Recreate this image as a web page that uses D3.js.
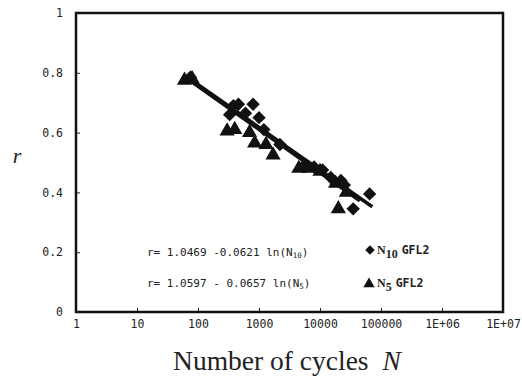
<!DOCTYPE html>
<html><head><meta charset="utf-8">
<script src="https://cdn.jsdelivr.net/npm/d3@7"></script>
<style>body{margin:0;background:#fff}svg{display:block}</style>
</head><body>
<script>
// ---- data ----
const xTicks = [1, 10, 100, 1000, 10000, 100000, 1e6, 1e7];
const xTickLabels = ["1", "10", "100", "1000", "10000", "100000", "1E+06", "1E+07"];
const yTicks = [0, 0.2, 0.4, 0.6, 0.8, 1];
const yTickLabels = ["0", "0.2", "0.4", "0.6", "0.8", "1"];

const n10Cycles = [75, 380, 460, 800, 330, 600, 1000, 1200, 2200, 5500, 8000, 11000, 15000, 22000, 25000, 35000, 65000];
const n10R      = [0.785, 0.69, 0.695, 0.695, 0.66, 0.665, 0.65, 0.61, 0.56, 0.49, 0.485, 0.475, 0.45, 0.44, 0.425, 0.345, 0.395];

const n5Cycles = [60, 80, 300, 400, 700, 850, 1300, 1700, 4500, 6500, 10000, 18000, 20000, 27000];
const n5R      = [0.775, 0.78, 0.605, 0.61, 0.6, 0.565, 0.56, 0.525, 0.48, 0.48, 0.47, 0.43, 0.345, 0.40];

const fit10N = [70, 72000];
const fit10R = [0.783, 0.352];
const fit5N  = [62, 45000];
const fit5R  = [0.785, 0.372];

// ---- layout ----
const W = 522, H = 376;
const m = {l: 76, t: 13, r: 503, b: 312};
const svg = d3.select("body").append("svg").attr("width", W).attr("height", H);

const x = d3.scaleLog().domain([1, 1e7]).range([m.l, m.r]);
const y = d3.scaleLinear().domain([0, 1]).range([m.b, m.t]);

const tickFont = "'DejaVu Sans Mono', monospace";

// ticks
svg.append("g").attr("transform", `translate(0,${m.b})`)
  .call(d3.axisBottom(x).tickValues(xTicks).tickSizeInner(-4).tickSizeOuter(0).tickFormat((d,i)=>xTickLabels[i]).tickPadding(8))
  .call(g => g.select(".domain").remove())
  .call(g => g.selectAll("line").attr("stroke", "#222").attr("stroke-width", 1))
  .call(g => g.selectAll("text").attr("font-family", tickFont).attr("font-size", 11.5).attr("fill", "#222"));

svg.append("g").attr("transform", `translate(${m.l},0)`)
  .call(d3.axisLeft(y).tickValues(yTicks).tickSizeInner(-4).tickSizeOuter(0).tickFormat((d,i)=>yTickLabels[i]).tickPadding(13))
  .call(g => g.select(".domain").remove())
  .call(g => g.selectAll("line").attr("stroke", "#222").attr("stroke-width", 1))
  .call(g => g.selectAll("text").attr("font-family", tickFont).attr("font-size", 11.5).attr("fill", "#222"));

// frame
svg.append("rect").attr("x", m.l).attr("y", m.t).attr("width", m.r - m.l).attr("height", m.b - m.t)
  .attr("fill", "none").attr("stroke", "#111").attr("stroke-width", 2.5);

// fit lines
const line = d3.line().x(d => x(d[0])).y(d => y(d[1]));
[[fit10N, fit10R], [fit5N, fit5R]].forEach(([ns, rs]) => {
  svg.append("path").datum(ns.map((n,i)=>[n, rs[i]])).attr("d", line)
    .attr("stroke", "#111").attr("stroke-width", 3.5).attr("fill", "none");
});

// markers
const diamond = d3.symbol().type(d3.symbolSquare).size(90);
const tri = d3.symbol().type(d3.symbolTriangle).size(100);
svg.append("g").selectAll("path").data(n5Cycles.map((n,i)=>[n, n5R[i]])).join("path")
  .attr("d", tri).attr("transform", d => `translate(${x(d[0])},${y(d[1])})`).attr("fill", "#111");
svg.append("g").selectAll("path").data(n10Cycles.map((n,i)=>[n, n10R[i]])).join("path")
  .attr("d", diamond).attr("transform", d => `translate(${x(d[0])},${y(d[1])}) rotate(45)`).attr("fill", "#111");

// equations
const eqFont = "'DejaVu Sans Mono', monospace";
function eq(yy, txt, sub) {
  const t = svg.append("text").attr("x", 147).attr("y", yy).attr("font-family", eqFont).attr("font-size", 11)
    .attr("fill", "#222");
  t.append("tspan").text(txt);
  t.append("tspan").attr("font-size", 7.5).attr("dy", 2).text(sub);
  t.append("tspan").attr("dy", -2).text(")");
}
eq(256, "r= 1.0469 -0.0621 ln(N", "10");
eq(287, "r= 1.0597 - 0.0657 ln(N", "5");

// legend
svg.append("path").attr("d", d3.symbol().type(d3.symbolSquare).size(45)).attr("transform", `translate(370,250) rotate(45)`).attr("fill", "#111");
svg.append("path").attr("d", d3.symbol().type(d3.symbolTriangle).size(55)).attr("transform", `translate(369,284)`).attr("fill", "#111");
function leg(yy, sub) {
  const t = svg.append("text").attr("x", 377).attr("y", yy).attr("font-family", "'Liberation Serif', serif")
    .attr("font-size", 12).attr("font-weight", "bold").attr("fill", "#222");
  t.append("tspan").text("N");
  t.append("tspan").attr("dy", 4).attr("font-size", 12).text(sub);
  t.append("tspan").attr("dy", -4).attr("dx", 4).attr("font-family", eqFont).attr("font-size", 11.5).text("GFL2");
}
leg(254, "10");
leg(287, "5");

// axis labels
const xl = svg.append("text").attr("x", 287).attr("y", 370).attr("text-anchor", "middle")
  .attr("font-family", "'Liberation Serif', 'Times New Roman', serif").attr("font-size", 27.5).attr("fill", "#222");
xl.append("tspan").text("Number of cycles");
xl.append("tspan").attr("dx", 14).attr("font-style", "italic").text("N");
svg.append("text").attr("x", 17).attr("y", 163).attr("text-anchor", "middle")
  .attr("font-family", "'Liberation Serif', serif").attr("font-style", "italic").attr("font-size", 22).attr("fill", "#222").text("r");
</script>
</body></html>
